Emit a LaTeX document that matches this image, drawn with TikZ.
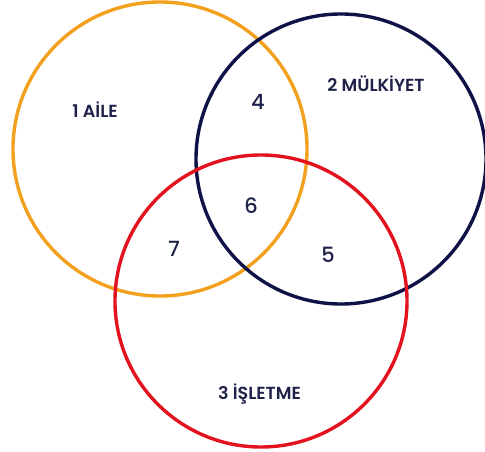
\documentclass[tikz,border=0pt]{standalone}
\usepackage{fontspec}
\setmainfont{Poppins}
\newfontfamily\semib{Poppins SemiBold}
\newfontfamily\medf{Poppins Medium}
\definecolor{ringorange}{HTML}{F2A11F}
\definecolor{ringnavy}{HTML}{0E1247}
\definecolor{ringred}{HTML}{E3121E}
\definecolor{txtnavy}{HTML}{1E2148}
\begin{document}
\begin{tikzpicture}[x=1pt,y=-1pt,
  ring/.style={circle,draw,line width=3.4pt,inner sep=0pt},
  setlabel/.style={text=txtnavy,font=\semib\fontsize{17.5}{20}\selectfont,inner sep=0pt},
  numlabel/.style={text=txtnavy,font=\medf\fontsize{21}{24}\selectfont,inner sep=0pt}]
\useasboundingbox (0,0) rectangle (485,452);
\node[ring,draw=ringorange,minimum size=294pt] (aile) at (160,149) {};
\node[ring,draw=ringnavy,minimum size=290pt] (mulk) at (341,159) {};
\node[ring,draw=ringred,minimum size=292pt] (islet) at (261,301) {};
\node[setlabel] (l1) at (95,110) {1 AİLE};
\node[setlabel] (l2) at (376,84) {2 MÜLKİYET};
\node[setlabel] (l3) at (259.5,394) {3 İŞLETME};
\node[numlabel] (n4) at (258,102) {4};
\node[numlabel] (n6) at (251,206) {6};
\node[numlabel] (n7) at (174,249) {7};
\node[numlabel] (n5) at (328,255) {5};
\end{tikzpicture}
\end{document}
